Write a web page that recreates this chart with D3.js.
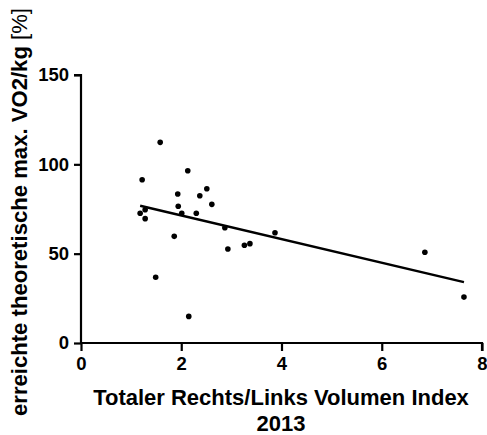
<!DOCTYPE html>
<html>
<head>
<meta charset="utf-8">
<script src="https://cdn.jsdelivr.net/npm/d3@7"></script>
<style>
  body { margin: 0; background: #fff; }
  text { font-family: "Liberation Sans", Arial, sans-serif; }
</style>
</head>
<body>
<div id="chart"></div>
<script>
// volume index (x) vs reached max. VO2/kg in % (y)
var volIndex = [1.58, 2.13, 1.22, 2.51, 1.93, 2.37, 2.61, 1.94, 1.28, 1.18, 2.01, 2.30,
  1.28, 2.87, 3.87, 1.86, 3.37, 3.26, 2.93, 1.49, 2.15, 6.86, 7.64];
var vo2 = [112.3, 96.4, 91.4, 86.3, 83.4, 82.4, 77.6, 76.5, 74.6, 72.6, 72.6, 72.6,
  69.6, 64.5, 61.7, 59.7, 55.6, 54.7, 52.6, 36.8, 14.9, 50.8, 25.7];
var xTicks = [0, 2, 4, 6, 8];
var yTicks = [0, 50, 100, 150];

var width = 487, height = 435;
var margin = {top: 75, right: 5, bottom: 92, left: 81};

var svg = d3.select("#chart").append("svg")
  .attr("width", width)
  .attr("height", height);

var x = d3.scaleLinear().domain([0, 8]).range([margin.left, width - margin.right]);
var y = d3.scaleLinear().domain([0, 150]).range([height - margin.bottom, margin.top]);

var points = volIndex.map(function(v, i){ return {x: v, y: vo2[i]}; });

// least squares fit, drawn over the range of x values
var mx = d3.mean(points, function(d){ return d.x; }),
    my = d3.mean(points, function(d){ return d.y; });
var sxy = d3.sum(points, function(d){ return (d.x - mx) * (d.y - my); }),
    sxx = d3.sum(points, function(d){ return (d.x - mx) * (d.x - mx); });
var slope = sxy / sxx, icpt = my - slope * mx;
var xr = d3.extent(volIndex);

// axes
var xAxis = svg.append("g")
  .attr("transform", "translate(0," + y(0) + ")")
  .call(d3.axisBottom(x).tickValues(xTicks).tickSize(8).tickPadding(6).tickFormat(d3.format("d")));
var yAxis = svg.append("g")
  .attr("transform", "translate(" + x(0) + ",0)")
  .call(d3.axisLeft(y).tickValues(yTicks).tickSize(7).tickPadding(5).tickFormat(d3.format("d")));

[xAxis, yAxis].forEach(function(a){
  a.select(".domain").attr("stroke", "#000").attr("stroke-width", 2.2);
  a.selectAll(".tick line").attr("stroke", "#000").attr("stroke-width", 2.2);
  a.selectAll(".tick text")
    .attr("fill", "#000")
    .style("font-size", "18.5px")
    .style("font-weight", "bold")
    .style("font-family", "'Liberation Sans', Arial, sans-serif");
});
// remove the outer ticks so the domain ends flush like the original
xAxis.select(".domain").attr("d", "M" + x(0) + ",0H" + x(8) + "V8");
yAxis.select(".domain").attr("d", "M-7," + y(150) + "H0V" + y(0));

svg.append("line")
  .attr("x1", x(xr[0])).attr("y1", y(icpt + slope * xr[0]))
  .attr("x2", x(xr[1])).attr("y2", y(icpt + slope * xr[1]))
  .attr("stroke", "#000")
  .attr("stroke-width", 2.5);

svg.selectAll("circle.pt")
  .data(points)
  .enter()
  .append("circle")
  .attr("class", "pt")
  .attr("cx", function(d){ return x(d.x); })
  .attr("cy", function(d){ return y(d.y); })
  .attr("r", 2.8)
  .attr("fill", "#000");

// axis titles
var xt = svg.append("text")
  .attr("text-anchor", "middle")
  .style("font-size", "22px")
  .style("font-weight", "bold");
xt.append("tspan").attr("x", 281).attr("y", 405).text("Totaler Rechts/Links Volumen Index");
xt.append("tspan").attr("x", 281).attr("y", 431).text("2013");

var yt = svg.append("text")
  .attr("transform", "translate(27,416) rotate(-90)")
  .attr("text-anchor", "start")
  .style("font-size", "22.5px")
  .style("font-weight", "bold");
yt.append("tspan").text("erreichte theoretische max. VO2/kg ");
yt.append("tspan").style("font-weight", "normal").text("[%]");
// keep the title inside the page
var len = yt.node().getComputedTextLength();
if (len > 408) yt.attr("textLength", 408).attr("lengthAdjust", "spacingAndGlyphs");
</script>
</body>
</html>
